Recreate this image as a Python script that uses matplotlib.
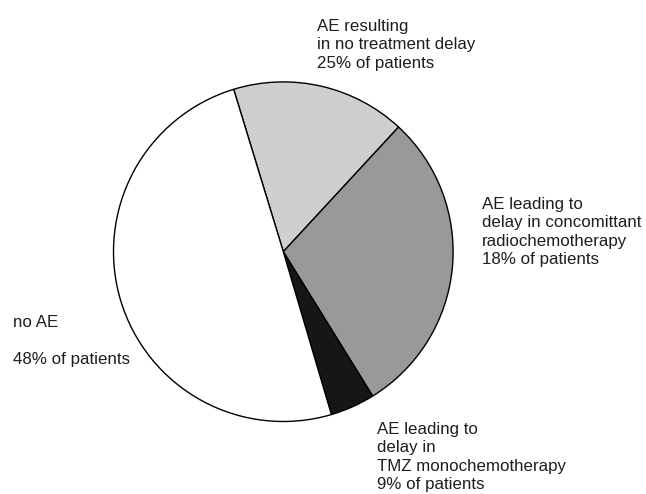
import matplotlib
matplotlib.use("Agg")
import matplotlib.pyplot as plt

# slice sizes as drawn (percent of circle), clockwise from the top boundary
slice_sizes = [16.6, 29.3, 4.25, 49.85]
slice_colors = ["#cfcfcf", "#999999", "#161616", "#ffffff"]

labels = [
    "AE resulting\nin no treatment delay\n25% of patients",
    "AE leading to\ndelay in concomittant\nradiochemotherapy\n18% of patients",
    "AE leading to\ndelay in\nTMZ monochemotherapy\n9% of patients",
    "no AE\n\n48% of patients",
]
# label anchor (left, top) in pixels
label_pos = [(317, 19), (482, 197), (377, 422), (13, 315)]

W, H = 646, 494
plt.rcParams["font.family"] = ["Liberation Sans", "DejaVu Sans"]

fig = plt.figure(figsize=(W / 100, H / 100), dpi=100)
cx, cy, r = 283.3, 251.7, 171.5
ax = fig.add_axes([(cx - r) / W, (H - cy - r) / H, 2 * r / W, 2 * r / H])
ax.pie(slice_sizes, colors=slice_colors, startangle=107, counterclock=False,
       radius=1.0, wedgeprops=dict(edgecolor="black", linewidth=1.0))
ax.set_xlim(-1.01, 1.01)
ax.set_ylim(-1.01, 1.01)
ax.set_aspect("equal")
ax.axis("off")

for txt, (x, y) in zip(labels, label_pos):
    fig.text(x / W, 1 - y / H, txt, ha="left", va="top", fontsize=12.2,
             linespacing=1.29, color="#1e1e1e")

fig.savefig("out.png", dpi=100)
